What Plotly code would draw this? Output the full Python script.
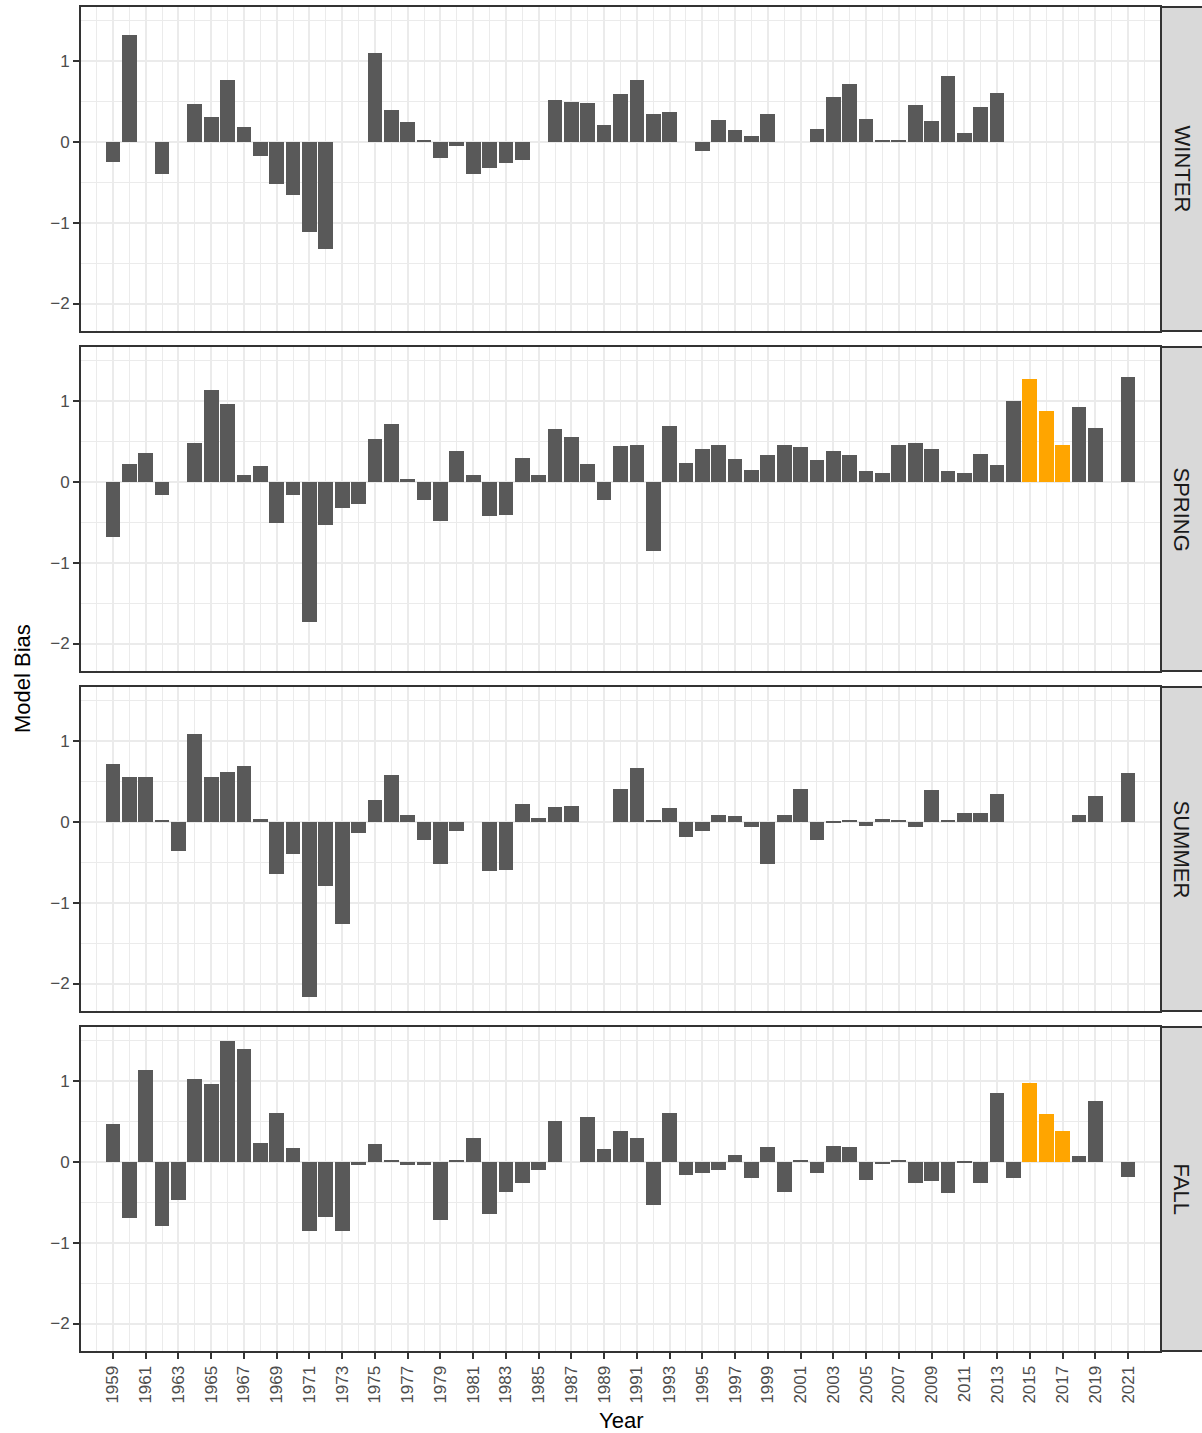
import plotly.graph_objects as go

years = list(range(1959, 2022))

winter = [-0.25, 1.32, None, -0.40, None, 0.47, 0.31, 0.76, 0.18, -0.17,
          -0.52, -0.66, -1.12, -1.33, None, None, 1.10, 0.39, 0.24, 0.01,
          -0.20, -0.05, -0.40, -0.32, -0.26, -0.22, None, 0.52, 0.49, 0.48,
          0.21, 0.59, 0.77, 0.34, 0.37, None, -0.11, 0.27, 0.14, 0.07,
          0.34, None, None, 0.16, 0.55, 0.72, 0.28, 0.02, 0.01, 0.45,
          0.26, 0.81, 0.11, 0.43, 0.60, None, None, None, None, None,
          None, None, None]

spring = [-0.68, 0.22, 0.35, -0.16, None, 0.48, 1.13, 0.96, 0.08, 0.19,
          -0.51, -0.16, -1.74, -0.53, -0.32, -0.27, 0.53, 0.71, 0.03, -0.22,
          -0.49, 0.38, 0.09, -0.42, -0.41, 0.30, 0.08, 0.65, 0.56, 0.22,
          -0.22, 0.44, 0.46, -0.86, 0.69, 0.23, 0.40, 0.46, 0.28, 0.14,
          0.33, 0.46, 0.43, 0.27, 0.38, 0.33, 0.13, 0.11, 0.46, 0.48,
          0.41, 0.13, 0.11, 0.34, 0.21, 1.00, 1.27, 0.88, 0.46, 0.93,
          0.66, None, 1.29]

summer = [0.72, 0.56, 0.55, 0.02, -0.36, 1.08, 0.56, 0.61, 0.69, 0.03,
          -0.65, -0.40, -2.17, -0.79, -1.26, -0.14, 0.27, 0.58, 0.08, -0.23,
          -0.52, -0.11, None, -0.61, -0.59, 0.22, 0.05, 0.18, 0.19, None,
          None, 0.40, 0.66, 0.01, 0.17, -0.19, -0.12, 0.08, 0.07, -0.07,
          -0.52, 0.08, 0.40, -0.22, -0.015, 0.01, -0.05, 0.04, 0.02, -0.06,
          0.39, 0.02, 0.11, 0.11, 0.34, None, None, None, None, 0.09,
          0.32, None, 0.60]

fall = [0.47, -0.70, 1.14, -0.80, -0.47, 1.03, 0.96, 1.49, 1.39, 0.23,
        0.60, 0.17, -0.85, -0.68, -0.86, -0.04, 0.22, 0.01, -0.04, -0.04,
        -0.72, 0.01, 0.29, -0.64, -0.37, -0.26, -0.10, 0.50, None, 0.56,
        0.16, 0.38, 0.30, -0.54, 0.60, -0.16, -0.14, -0.10, 0.08, -0.20,
        0.18, -0.37, 0.02, -0.14, 0.19, 0.18, -0.22, -0.03, 0.02, -0.26,
        -0.24, -0.38, -0.01, -0.26, 0.85, -0.20, 0.97, 0.59, 0.38, 0.07,
        0.75, None, -0.19]

seasons = ["WINTER", "SPRING", "SUMMER", "FALL"]
season_values = [winter, spring, summer, fall]
highlight_years = {"SPRING": [2015, 2016, 2017], "FALL": [2015, 2016, 2017]}

y_ticks = [-2, -1, 0, 1]
x_ticks = list(range(1959, 2022, 2))

W, H = 1202, 1433
BAR_GREY = "#595959"
BAR_ORANGE = "#FFA500"
GRID = "#EBEBEB"
BORDER = "#333333"
FONT = "Liberation Sans, Arial, Helvetica, sans-serif"

px_left, px_right = 81, 1160
panel_tops = [7, 347, 687, 1027]
panel_h = 324

fig = go.Figure()
shapes = []
annotations = []

for i, (name, vals) in enumerate(zip(seasons, season_values)):
    idx = "" if i == 0 else str(i + 1)
    hl = highlight_years.get(name, [])
    colors = [BAR_ORANGE if y in hl else BAR_GREY for y in years]
    fig.add_trace(go.Bar(
        x=years, y=vals, width=0.9, marker=dict(color=colors, line=dict(width=0)),
        xaxis="x" + idx, yaxis="y" + idx, showlegend=False,
    ))
    top = panel_tops[i]
    y1 = 1 - top / H
    y0 = 1 - (top + panel_h) / H
    last = (i == 3)
    fig.update_layout(**{
        "xaxis" + idx: dict(
            domain=[px_left / W, px_right / W], range=[1957.05, 2022.95],
            anchor="y" + idx, tickmode="array", tickvals=x_ticks,
            ticktext=[str(t) for t in x_ticks],
            showticklabels=last, ticks="outside" if last else "",
            ticklen=6, tickwidth=2, tickcolor=BORDER, tickangle=-90,
            tickfont=dict(size=17, color="#4D4D4D", family=FONT),
            showgrid=True, gridcolor=GRID, gridwidth=2,
            minor=dict(tickmode="array", tickvals=list(range(1958, 2023, 2)),
                       showgrid=True, gridcolor=GRID, gridwidth=1, ticks=""),
            showline=True, mirror=True, linecolor=BORDER, linewidth=2,
            zeroline=False, fixedrange=True,
        ),
        "yaxis" + idx: dict(
            domain=[y0, y1], range=[-2.34, 1.667], anchor="x" + idx,
            tickmode="array", tickvals=y_ticks,
            ticktext=["\u22122", "\u22121", "0", "1"],
            ticks="outside", ticklen=6, tickwidth=2, tickcolor=BORDER,
            tickfont=dict(size=17, color="#4D4D4D", family=FONT),
            showgrid=True, gridcolor=GRID, gridwidth=2,
            minor=dict(tickmode="array", tickvals=[-2.5, -1.5, -0.5, 0.5, 1.5],
                       showgrid=True, gridcolor=GRID, gridwidth=1, ticks=""),
            showline=True, mirror=True, linecolor=BORDER, linewidth=2,
            zeroline=False, fixedrange=True,
        ),
    })
    # strip
    shapes.append(dict(type="rect", xref="paper", yref="paper",
                       x0=1161 / W, x1=1.0 + 2 / W, y0=y0, y1=y1,
                       fillcolor="#D9D9D9", line=dict(color=BORDER, width=2),
                       layer="below"))
    annotations.append(dict(text=name, xref="paper", yref="paper",
                            x=1181.5 / W, y=(y0 + y1) / 2, showarrow=False,
                            textangle=90, xanchor="center", yanchor="middle",
                            font=dict(size=22, color="#1A1A1A", family=FONT)))

annotations.append(dict(text="Model Bias", xref="paper", yref="paper",
                        x=22 / W, y=1 - 679 / H, showarrow=False, textangle=-90,
                        xanchor="center", yanchor="middle",
                        font=dict(size=22, color="black", family=FONT)))
annotations.append(dict(text="Year", xref="paper", yref="paper",
                        x=621 / W, y=1 - 1420 / H, showarrow=False,
                        xanchor="center", yanchor="middle",
                        font=dict(size=22, color="black", family=FONT)))

fig.update_layout(
    width=W, height=H, autosize=False,
    margin=dict(l=0, r=0, t=0, b=0),
    paper_bgcolor="white", plot_bgcolor="white",
    bargap=0, shapes=shapes, annotations=annotations,
    font=dict(family=FONT),
)

fig.write_html(
    "out.html",
    config={"displayModeBar": False},
    post_script="document.body.style.margin='0';document.body.style.padding='0';"
                "document.body.style.overflow='hidden';"
                "document.documentElement.style.overflow='hidden';",
)
